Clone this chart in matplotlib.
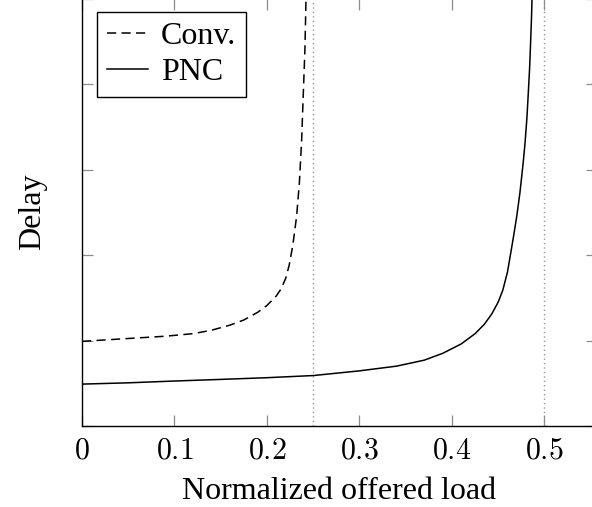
import matplotlib
matplotlib.use("Agg")
import matplotlib.pyplot as plt
from matplotlib.ticker import FixedLocator, FixedFormatter

plt.rcParams["mathtext.fontset"] = "cm"

# Data
conv_x = [0.0, 0.03, 0.06, 0.09, 0.12, 0.14, 0.16, 0.175, 0.19, 0.20,
          0.21, 0.215, 0.22, 0.224, 0.228, 0.232, 0.235, 0.2375, 0.239,
          0.241, 0.242, 0.2425]
conv_y = [0.99, 1.01, 1.03, 1.05, 1.08, 1.12, 1.18, 1.24, 1.33, 1.41,
          1.52, 1.60, 1.72, 1.88, 2.12, 2.45, 2.84, 3.35, 3.81,
          4.40, 4.90, 5.2]

pnc_x = [0.0, 0.05, 0.1, 0.15, 0.2, 0.25, 0.3, 0.34, 0.37, 0.39, 0.41,
         0.425, 0.435, 0.443, 0.45, 0.455, 0.46, 0.466, 0.47, 0.4735,
         0.477, 0.479, 0.481, 0.4825, 0.484, 0.485, 0.486, 0.4865, 0.487]
pnc_y = [0.49, 0.505, 0.526, 0.545, 0.565, 0.59, 0.645, 0.70, 0.77, 0.85, 0.96,
         1.08, 1.19, 1.31, 1.45, 1.59, 1.80, 2.18, 2.45, 2.73,
         3.08, 3.31, 3.60, 3.89, 4.20, 4.48, 4.78, 4.98, 5.2]

capacity_lines = [0.25, 0.5]
x_ticks = [0, 0.1, 0.2, 0.3, 0.4, 0.5]
x_tick_labels = ["$0$", "$0.1$", "$0.2$", "$0.3$", "$0.4$", "$0.5$"]
y_ticks = [0, 1, 2, 3, 4, 5]

fig = plt.figure(figsize=(5.92, 5.07), dpi=100)
W, H = 592, 507
left_px, right_px, bottom_px, top_px = 82, 597, 426, -1.5
ax = fig.add_axes([left_px / W, (H - bottom_px) / H,
                   (right_px - left_px) / W, (bottom_px - top_px) / H])

for xv in capacity_lines:
    ax.axvline(xv, color="#999999", linestyle=(0, (1, 2.2)), linewidth=1.0, zorder=1)

ax.plot(conv_x, conv_y, color="black", linestyle=(0, (6, 3.5)), linewidth=1.1,
        label="Conv.")
ax.plot(pnc_x, pnc_y, color="black", linestyle="-", linewidth=1.1, label="PNC")

ax.set_xlim(0, 0.5568)
ax.set_ylim(0, 5)

ax.xaxis.set_major_locator(FixedLocator(x_ticks))
ax.xaxis.set_major_formatter(FixedFormatter(x_tick_labels))
ax.yaxis.set_major_locator(FixedLocator(y_ticks))
ax.set_yticklabels([])

ax.tick_params(axis="both", which="both", direction="in", length=8, width=0.9,
               color="#8c8c8c", top=True, right=True, pad=7)
ax.tick_params(axis="x", labelsize=21.5)
for s in ax.spines.values():
    s.set_linewidth(1.0)
    s.set_color("black")

ax.set_xlabel("Normalized offered load", family="Liberation Serif", fontsize=23, labelpad=9)
ax.set_ylabel("Delay", family="Liberation Serif", fontsize=23, labelpad=18)

leg = ax.legend(loc="upper left", bbox_to_anchor=((97 - left_px) / (right_px - left_px),
                                                   1 - (12 - top_px) / (bottom_px - top_px)),
                borderaxespad=0, fancybox=False, framealpha=1, edgecolor="black",
                prop={"family": "Liberation Serif", "size": 23},
                handlelength=1.3, handletextpad=0.4, borderpad=0.3, labelspacing=0.22)
leg.get_frame().set_linewidth(1.0)

fig.savefig("out.png", dpi=100)
